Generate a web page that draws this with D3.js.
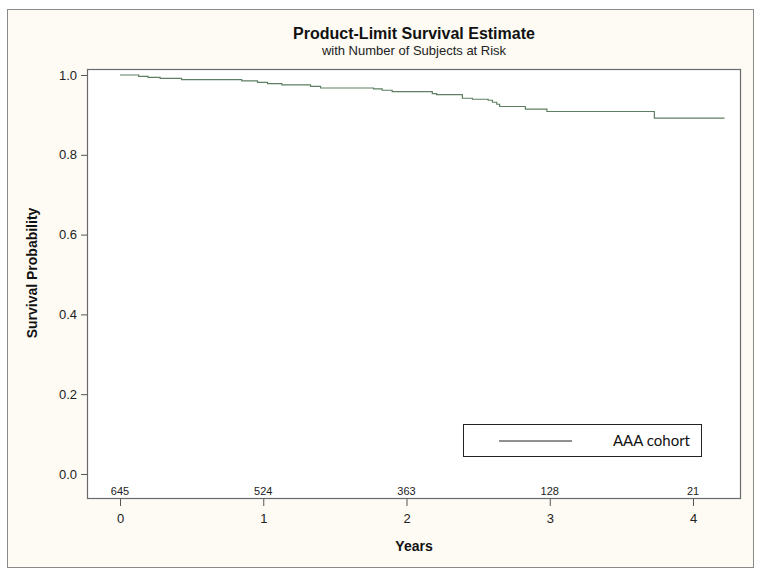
<!DOCTYPE html>
<html><head><meta charset="utf-8">
<script src="https://cdn.jsdelivr.net/npm/d3@7"></script>
<style>html,body{margin:0;padding:0;background:#fff;}svg{display:block;}</style>
</head><body>
<script>
// Kaplan-Meier step data (time in years, survival probability)
const times    = [0, 0.13, 0.196, 0.28, 0.43, 0.85, 0.96, 1.03, 1.13, 1.33, 1.40, 1.77, 1.83, 1.90, 2.18, 2.21, 2.39, 2.46, 2.57, 2.60, 2.63, 2.65, 2.83, 2.98, 3.73, 4.22];
const survival = [1.0, 0.9967, 0.9942, 0.9917, 0.9885, 0.985, 0.9817, 0.9785, 0.975, 0.9717, 0.9674, 0.965, 0.9617, 0.9584, 0.9534, 0.951, 0.9417, 0.9392, 0.9367, 0.9317, 0.9267, 0.921, 0.9142, 0.9085, 0.8917, 0.8917];
const xTicks = [0, 1, 2, 3, 4];
const yTicks = [0.0, 0.2, 0.4, 0.6, 0.8, 1.0];
const atRisk = [645, 524, 363, 128, 21];
const seriesName = "AAA cohort";

const W = 762, H = 575;
const plot = {l: 87, t: 69, r: 741, b: 499};

const svg = d3.select("body").append("svg").attr("width", W).attr("height", H);

// outer frame
svg.append("rect").attr("x", 7.5).attr("y", 9.5).attr("width", 746).attr("height", 558)
  .attr("fill", "#fdfbf4").attr("stroke", "#8a8a8a").attr("stroke-width", 1);

// plot area
svg.append("rect").attr("x", plot.l).attr("y", plot.t).attr("width", plot.r - plot.l).attr("height", plot.b - plot.t)
  .attr("fill", "#ffffff");

const x = d3.scaleLinear().domain([-0.2304, 4.335]).range([plot.l, plot.r]);
const y = d3.scaleLinear().domain([-0.0627, 1.015]).range([plot.b, plot.t]);

const font = "'Liberation Sans', Arial, sans-serif";

// Y axis
const yAxis = svg.append("g").attr("transform", `translate(${plot.l},0)`)
  .call(d3.axisLeft(y).tickValues(yTicks).tickFormat(d3.format(".1f")).tickSize(6).tickPadding(4));
yAxis.select(".domain").remove();
yAxis.selectAll("line").attr("stroke", "#555");
yAxis.selectAll("text").attr("font-family", font).attr("font-size", 13).attr("fill", "#222");

// X axis
const xAxis = svg.append("g").attr("transform", `translate(0,${plot.b})`)
  .call(d3.axisBottom(x).tickValues(xTicks).tickFormat(d3.format("d")).tickSize(7).tickPadding(8));
xAxis.select(".domain").remove();
xAxis.selectAll("line").attr("stroke", "#555");
xAxis.selectAll("text").attr("font-family", font).attr("font-size", 13).attr("fill", "#222");

// plot border
svg.append("rect").attr("x", plot.l + 0.5).attr("y", plot.t + 0.5)
  .attr("width", plot.r - plot.l - 1).attr("height", plot.b - plot.t - 1)
  .attr("fill", "none").attr("stroke", "#6a6a6a").attr("stroke-width", 1.2);

// at-risk numbers
svg.append("g").selectAll("text").data(atRisk).join("text")
  .attr("x", (d, i) => x(xTicks[i])).attr("y", plot.b - 4)
  .attr("text-anchor", "middle").attr("font-family", font).attr("font-size", 11).attr("fill", "#222")
  .text(d => d);

// survival curve
const pts = times.map((t, i) => [t, survival[i]]);
const line = d3.line().x(d => x(d[0])).y(d => y(d[1])).curve(d3.curveStepAfter);
svg.append("path").datum(pts).attr("d", line)
  .attr("fill", "none").attr("stroke", "#5e7f62").attr("stroke-width", 1.2);

// titles
svg.append("text").attr("x", (plot.l + plot.r) / 2).attr("y", 39).attr("text-anchor", "middle")
  .attr("font-family", font).attr("font-weight", "bold").attr("font-size", 16).attr("fill", "#111")
  .text("Product-Limit Survival Estimate");
svg.append("text").attr("x", (plot.l + plot.r) / 2).attr("y", 55).attr("text-anchor", "middle")
  .attr("font-family", font).attr("font-size", 13).attr("fill", "#222")
  .text("with Number of Subjects at Risk");

// axis labels
svg.append("text").attr("x", (plot.l + plot.r) / 2).attr("y", 551).attr("text-anchor", "middle")
  .attr("font-family", font).attr("font-weight", "bold").attr("font-size", 14).attr("fill", "#111")
  .text("Years");
svg.append("text").attr("transform", `translate(37,273) rotate(-90)`).attr("text-anchor", "middle")
  .attr("font-family", font).attr("font-weight", "bold").attr("font-size", 14).attr("fill", "#111")
  .text("Survival Probability");

// legend
const lg = svg.append("g");
lg.append("rect").attr("x", 463.5).attr("y", 424.5).attr("width", 238).attr("height", 32)
  .attr("fill", "#fff").attr("stroke", "#222").attr("stroke-width", 1);
lg.append("line").attr("x1", 499).attr("x2", 572).attr("y1", 441).attr("y2", 441)
  .attr("stroke", "#222").attr("stroke-width", 1.2);
lg.append("text").attr("x", 690).attr("y", 446).attr("text-anchor", "end")
  .attr("font-family", "Lato, 'Open Sans', sans-serif").attr("font-size", 15).attr("fill", "#111")
  .text(seriesName);
</script>
</body></html>
